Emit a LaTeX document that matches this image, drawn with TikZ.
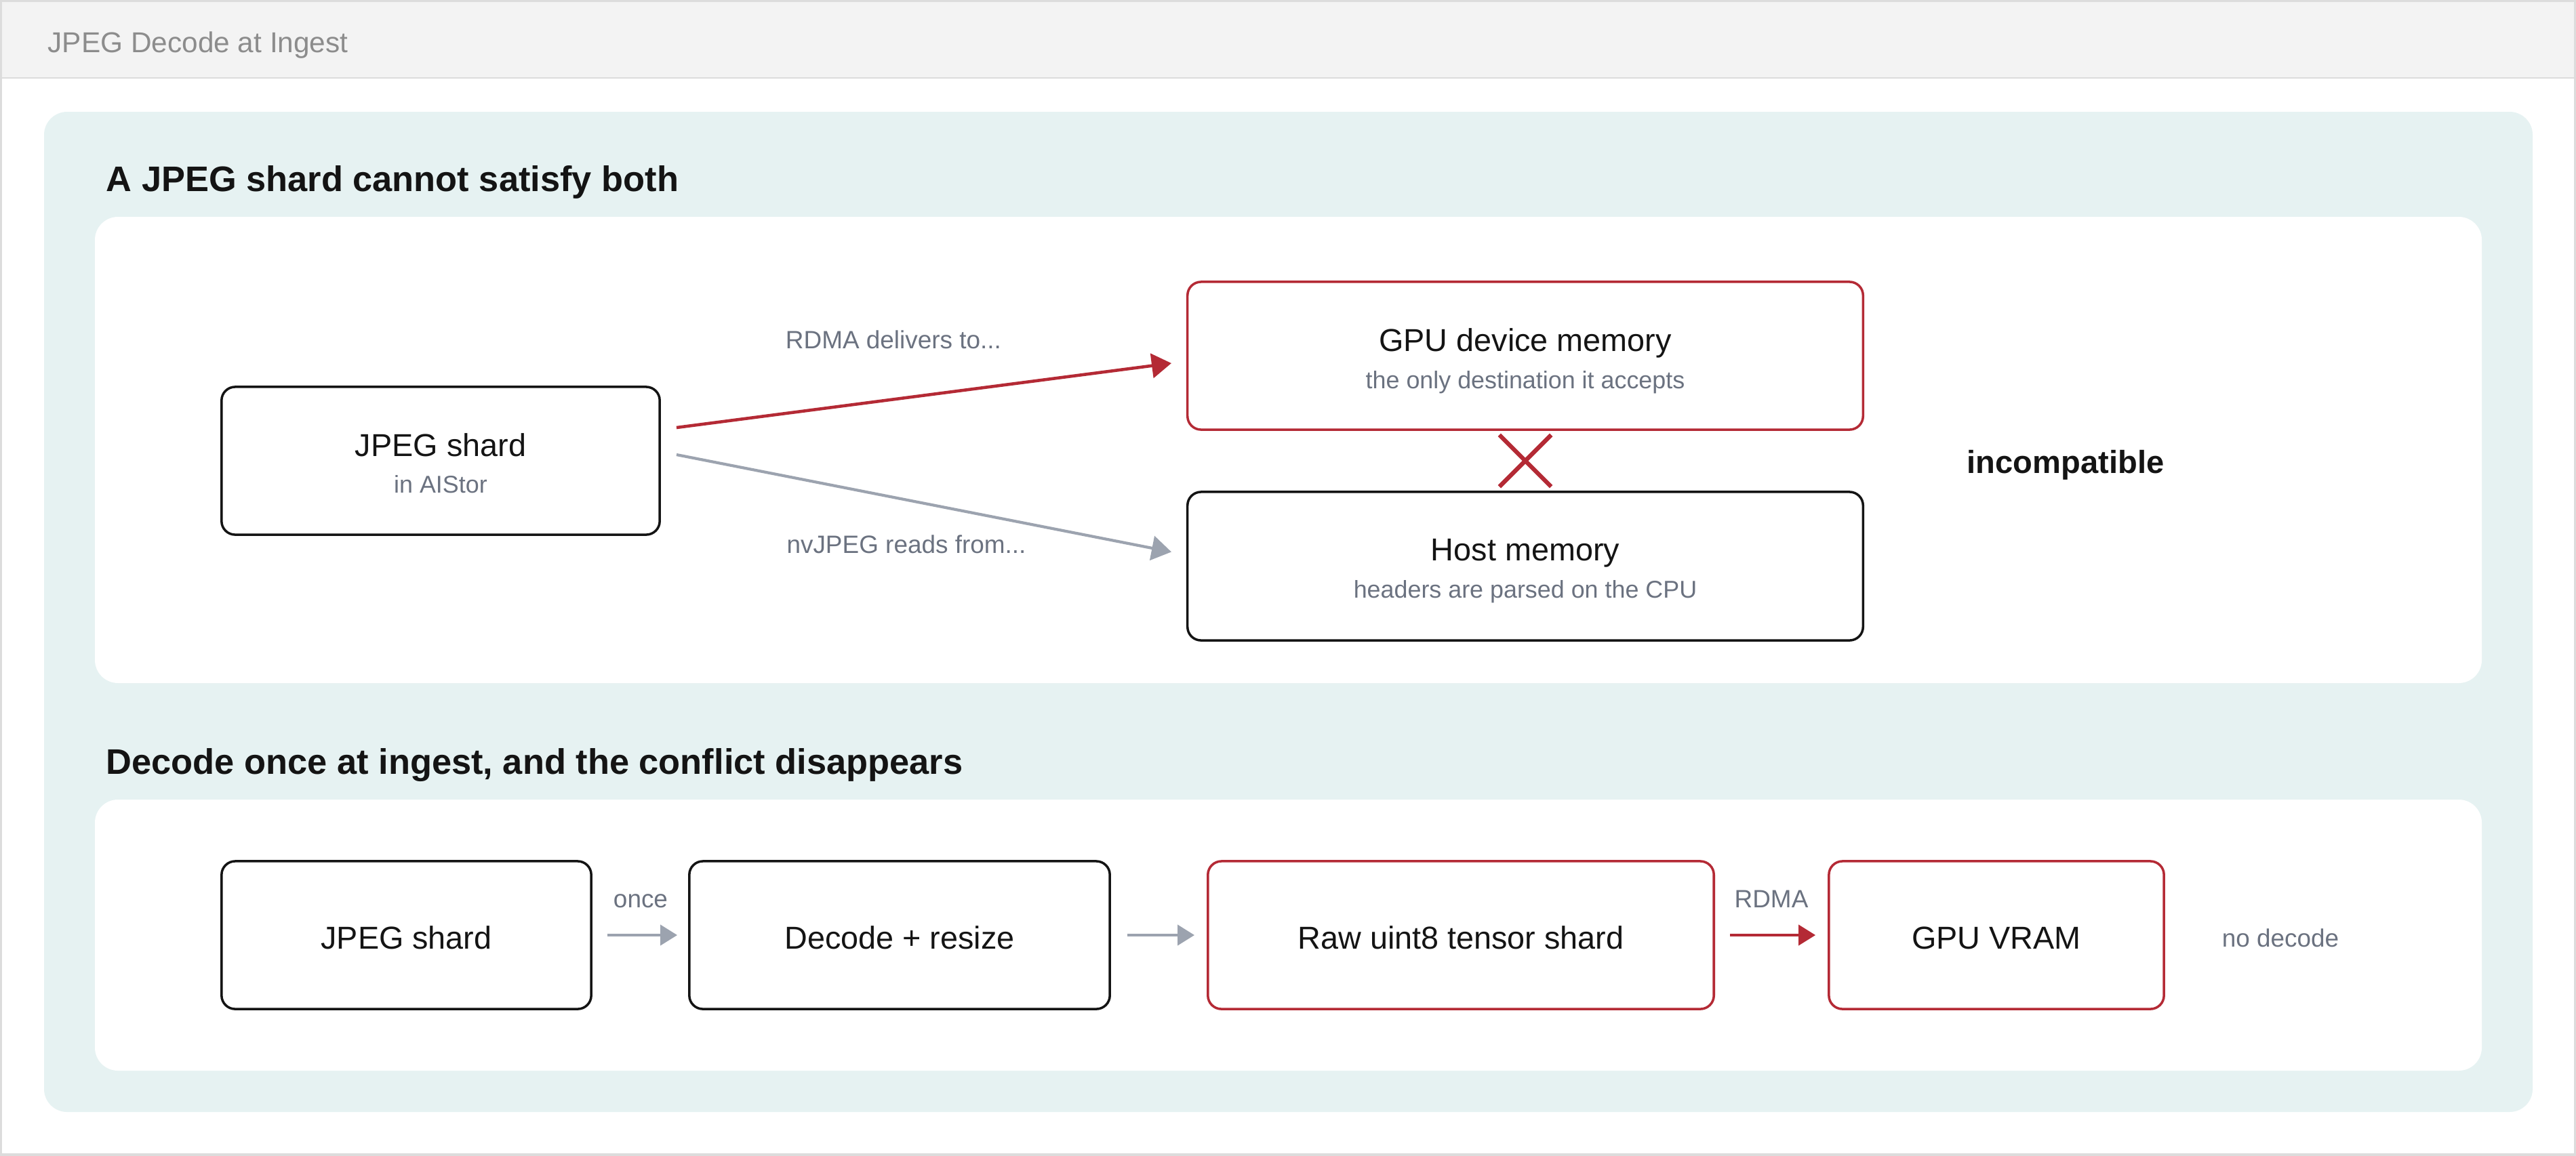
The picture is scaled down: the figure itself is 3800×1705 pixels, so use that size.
\documentclass[tikz,border=0pt]{standalone}
\usepackage{fontspec}
\setmainfont{Liberation Sans}
\usetikzlibrary{arrows.meta,calc,shapes.misc}
\definecolor{hdrbg}{HTML}{F3F3F3}
\definecolor{hdrline}{HTML}{DCDCDC}
\definecolor{panelteal}{HTML}{E6F2F2}
\definecolor{accred}{HTML}{B42A35}
\definecolor{arrgray}{HTML}{9CA3AF}
\definecolor{txtgray}{HTML}{6B7280}
\definecolor{ttlgray}{HTML}{8C8C8C}
\definecolor{ink}{HTML}{141414}
\tikzset{
  box/.style={draw=ink, line width=1pt, rounded corners=0.2cm, fill=white, inner sep=0pt},
  redbox/.style={box, draw=accred},
  maintext/.style={anchor=base, text=ink, font=\fontsize{13.3pt}{16pt}\selectfont, inner sep=0pt},
  subtext/.style={anchor=base, text=txtgray, font=\fontsize{10.2pt}{12pt}\selectfont, inner sep=0pt},
  lbltext/.style={anchor=base, text=txtgray, font=\fontsize{10.5pt}{12pt}\selectfont, inner sep=0pt},
  headtext/.style={anchor=base west, text=ink, font=\bfseries\fontsize{14.9pt}{18pt}\selectfont, inner sep=0pt},
  redarr/.style={draw=accred, line width=1.3pt, -{Triangle[length=0.29cm,width=0.36cm]}},
  grayarr/.style={draw=arrgray, line width=1.2pt, -{Triangle[length=0.29cm,width=0.36cm]}},
  redarrs/.style={draw=accred, line width=1.2pt, -{Triangle[length=0.25cm,width=0.30cm]}},
  grayarrs/.style={draw=arrgray, line width=1.2pt, -{Triangle[length=0.25cm,width=0.30cm]}},
}
\begin{document}
\begin{tikzpicture}[x=0.01cm,y=-0.01cm]
\useasboundingbox (0,0) rectangle (3800,1705);
\fill[white] (0,0) rectangle (3800,1705);
\fill[hdrbg] (0,0) rectangle (3800,115);
\draw[hdrline, line width=0.5pt] (0,115) -- (3800,115);
\draw[hdrline, line width=1pt] (1,1) rectangle (3799,1704);
\node[anchor=base west, text=ttlgray, font=\fontsize{12.05pt}{14pt}\selectfont, inner sep=0pt] (title) at (70,77) {JPEG Decode at Ingest};

% panels
\fill[panelteal, rounded corners=0.34cm] (65,165) rectangle (3736,1641);
\fill[white, rounded corners=0.34cm] (140,320) rectangle (3661,1008);
\fill[white, rounded corners=0.34cm] (140,1180) rectangle (3661,1580);

\node[headtext] (h1) at (156,282) {A JPEG shard cannot satisfy both};
\node[headtext] (h2) at (156,1142) {Decode once at ingest, and the conflict disappears};

% top section
\node[box, minimum width=6.46cm, minimum height=2.18cm] (s1) at (650,680) {};
\node[redbox, minimum width=9.96cm, minimum height=2.18cm] (gpu) at (2250,525) {};
\node[box, minimum width=9.96cm, minimum height=2.19cm] (host) at (2250,835.5) {};

\node[maintext] (s1t) at (650,673) {JPEG shard};
\node[subtext] (s1s) at (650,727) {in AIStor};
\node[maintext] (gput) at (2250,518) {GPU device memory};
\node[subtext] (gpus) at (2250,573) {the only destination it accepts};
\node[maintext] (hostt) at (2250,827) {Host memory};
\node[subtext] (hosts) at (2250,882) {headers are parsed on the CPU};

\draw[redarr] ($(s1.east)+(23,-49)$) -- ($(gpu.west)+(-22,11)$);
\draw[grayarr] ($(s1.east)+(23,-9)$) -- ($(host.west)+(-22,-21)$);
\node[lbltext] (l1) at (1318,514) {RDMA delivers to...};
\node[lbltext] (l2) at (1337,816) {nvJPEG reads from...};

\node[cross out, draw=accred, line width=1.8pt, minimum size=0.7cm, inner sep=0pt] (xmark) at ($(gpu.south)!0.5!(host.north)$) {};
\node[anchor=base, text=ink, font=\bfseries\fontsize{13.4pt}{16pt}\selectfont, inner sep=0pt] (incomp) at (3047,698) {incompatible};

% bottom section
\node[box, minimum width=5.45cm, minimum height=2.18cm] (b1) at (599.5,1380) {};
\node[box, minimum width=6.20cm, minimum height=2.18cm] (b2) at (1327,1380) {};
\node[redbox, minimum width=7.46cm, minimum height=2.18cm] (b3) at (2155,1380) {};
\node[redbox, minimum width=4.94cm, minimum height=2.18cm] (b4) at (2945,1380) {};

\node[maintext] (b1t) at (599.5,1400) {JPEG shard};
\node[maintext] (b2t) at (1327,1400) {Decode + resize};
\node[maintext] (b3t) at (2155,1400) {Raw uint8 tensor shard};
\node[maintext] (b4t) at (2945,1400) {GPU VRAM};

\draw[grayarrs] ($(b1.east)+(22,0)$) -- ($(b2.west)+(-16,0)$);
\draw[grayarrs] ($(b2.east)+(24,0)$) -- ($(b3.west)+(-18,0)$);
\draw[redarrs] ($(b3.east)+(22,0)$) -- ($(b4.west)+(-18,0)$);
\node[lbltext] (once) at (945,1339) {once};
\node[lbltext] (rdma) at (2613,1339) {RDMA};
\node[lbltext] (nodec) at (3364,1397) {no decode};
\end{tikzpicture}
\end{document}
